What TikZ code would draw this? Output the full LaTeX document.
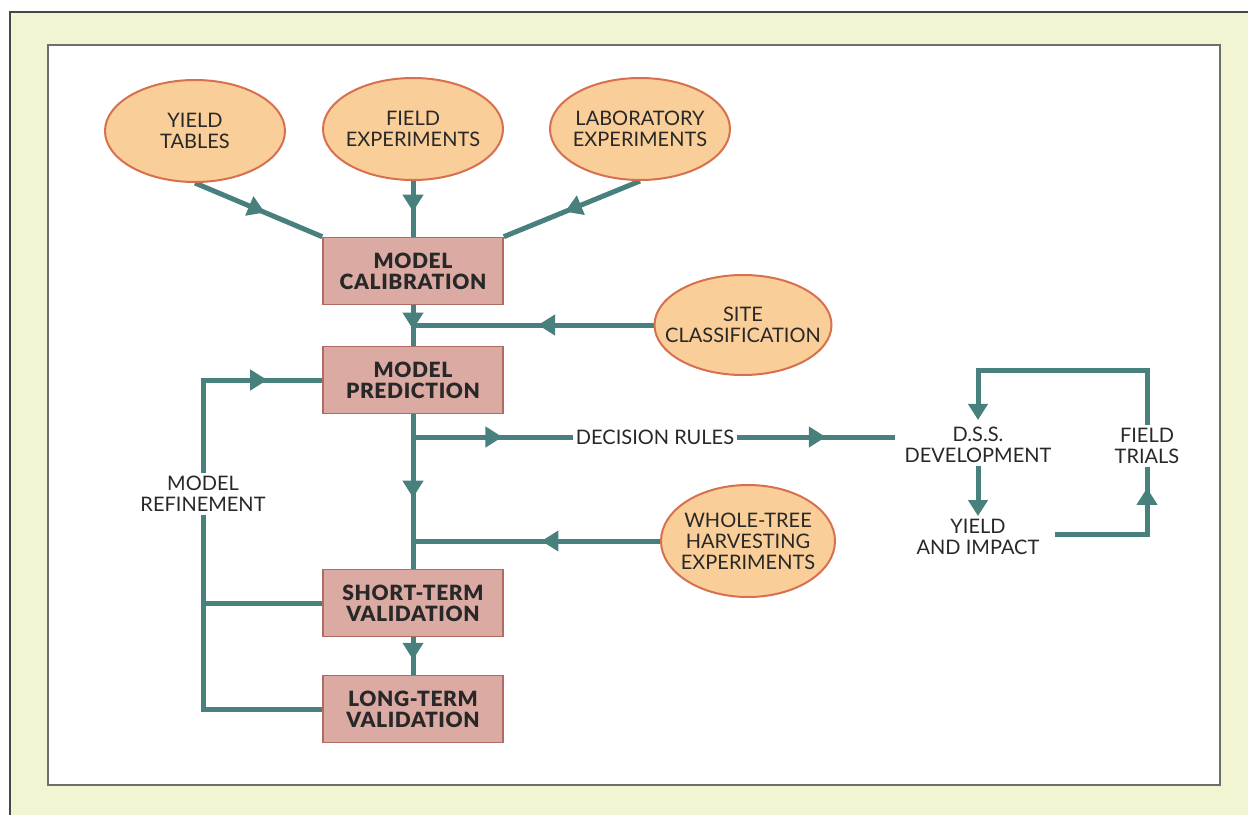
\documentclass[tikz,border=0pt]{standalone}
\usepackage{fontspec}
\setmainfont{Lato}
\newfontfamily\stagefont{Lato Black}[LetterSpace=3]
\usetikzlibrary{shapes.geometric, arrows.meta, decorations.markings}

\definecolor{panelyellow}{RGB}{243,245,210}
\definecolor{framegrey}{RGB}{70,72,72}
\definecolor{innergrey}{RGB}{110,110,110}
\definecolor{flowteal}{RGB}{72,128,125}
\definecolor{sourcefill}{RGB}{250,206,152}
\definecolor{sourceedge}{RGB}{214,112,78}
\definecolor{stagefill}{RGB}{219,170,162}
\definecolor{stageedge}{RGB}{176,108,100}
\definecolor{ink}{RGB}{40,40,40}

\pgfdeclarelayer{back}
\pgfdeclarelayer{links}
\pgfsetlayers{back,links,main}

\tikzset{
  every node/.style={text=ink, font=\fontsize{20}{21}\selectfont, align=center},
  source/.style={ellipse, draw=sourceedge, fill=sourcefill, line width=2pt,
    minimum width=180pt, minimum height=102pt, inner xsep=-40pt, inner ysep=-15pt},
  stage/.style={rectangle, draw=stageedge, fill=stagefill, line width=1.6pt,
    minimum width=180pt, minimum height=67pt, inner sep=0pt,
    font=\fontsize{21}{21}\stagefont},
  lbl/.style={inner sep=3pt},
  flow/.style={draw=flowteal, line width=5pt},
  tipend/.style={-{Triangle[length=16pt,width=19pt]}},
  tipat/.style={postaction={decorate},
    decoration={markings,
      mark=at position #1 with {\arrow[flowteal]{Triangle[length=17pt,width=20pt]}}}},
}

\begin{document}
\begin{tikzpicture}[x=1pt,y=-1pt]
\useasboundingbox (0,0) rectangle (1248,815);

% mount and page
\begin{pgfonlayer}{back}
  \fill[white] (0,0) rectangle (1248,815);
  \fill[panelyellow] (10,12) rectangle (1248,815);
  \draw[framegrey, line width=2.5pt] (10,815) -- (10,12) -- (1248,12);
  \draw[fill=white, draw=innergrey, line width=1.2pt] (48,45) rectangle (1220,785);
\end{pgfonlayer}

% data sources
\node[source] (yt) at (195,131) {YIELD\\TABLES};
\node[source] (fe) at (413,129) {FIELD\\EXPERIMENTS};
\node[source] (le) at (640,129) {LABORATORY\\EXPERIMENTS};
\node[source, minimum width=177pt, minimum height=100pt] (sc) at (743,325) {SITE\\CLASSIFICATION};
\node[source, minimum width=174pt, minimum height=112pt] (wt) at (748,541) {WHOLE-TREE\\HARVESTING\\EXPERIMENTS};

% model stages
\node[stage] (mc) at (413,271) {MODEL\\CALIBRATION};
\node[stage] (mp) at (413,380) {MODEL\\PREDICTION};
\node[stage] (st) at (413,603) {SHORT-TERM\\VALIDATION};
\node[stage] (lt) at (413,709) {LONG-TERM\\VALIDATION};

% plain labels
\node[lbl] (mr) at (203,494) {MODEL\\REFINEMENT};
\node[lbl] (dr) at (655,437) {DECISION RULES};
\node[lbl] (dss) at (978,445) {D.S.S.\\DEVELOPMENT};
\node[lbl] (ft) at (1147,446) {FIELD\\TRIALS};
\node[lbl] (yi) at (978,537) {YIELD\\AND IMPACT};

\coordinate (loopTop) at (1060,370);

\begin{pgfonlayer}{links}
  % inputs to calibration
  \draw[flow, tipat=0.55] (yt.south) -- (mc.north west);
  \draw[flow, tipat=0.55] (fe.south) -- (mc.north);
  \draw[flow, tipat=0.55] (le.south) -- (mc.north east);
  % main spine
  \draw[flow, tipat=0.6] (mc.south) -- (mp.north);
  \draw[flow, tipat=0.54] (mp.south) -- (st.north);
  \draw[flow, tipat=0.6] (st.south) -- (lt.north);
  % side inputs and outputs
  \draw[flow, tipat=0.48] (sc.west) -- (mc.south |- sc.west);
  \draw[flow, tipat=0.48] (wt.west) -- (mp.south |- wt.west);
  \draw[flow, tipat=0.56] (mp.south |- dr.west) -- (dr.west);
  \draw[flow, tipat=0.56] (dr.east) -- ([xshift=-6pt]dr.east -| dss.west);
  % refinement loop
  \draw[flow] (lt.west) -| (mr.south);
  \draw[flow] (st.west) -- (st.west -| mr.south);
  \draw[flow, tipat=-55pt] (mr.north) |- (mp.west);
  % decision support loop
  \draw[flow, tipend] (ft.north) |- (loopTop) -| ([yshift=4pt]dss.north);
  \draw[flow, tipend] (dss.south) -- (yi.north);
  \draw[flow, tipat=-21pt] ([xshift=12pt, yshift=3pt]yi.east) -| (ft.south);
\end{pgfonlayer}
\end{tikzpicture}
\end{document}
